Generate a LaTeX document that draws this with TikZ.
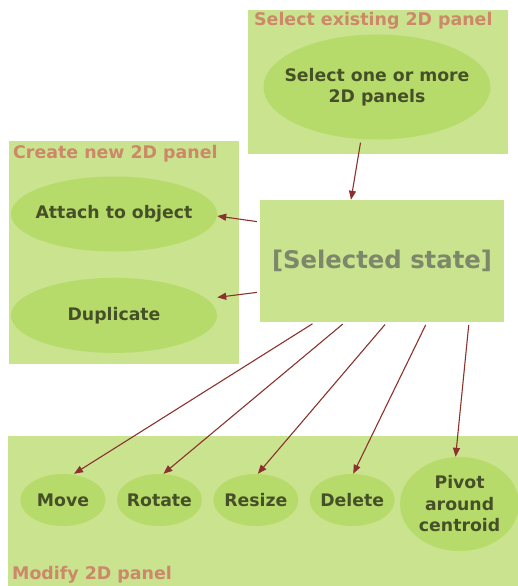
\documentclass[tikz,border=0pt]{standalone}
\usepackage{fontspec}
\setmainfont{DejaVu Sans}
\usetikzlibrary{shapes.geometric,arrows.meta,positioning}

\definecolor{panelverde}{HTML}{C9E38F}
\definecolor{elipseverde}{HTML}{B7DB6A}
\definecolor{textooliva}{HTML}{465028}
\definecolor{titulosalmon}{HTML}{CD8769}
\definecolor{estadogris}{HTML}{7D8769}
\definecolor{flechagranate}{HTML}{8C322D}

\tikzset{
    panel/.style={
        rectangle,                % fondo de cada grupo
        fill=panelverde,          % verde claro, sin borde
        inner sep=0pt,
        anchor=north west         % se coloca por su esquina superior izquierda
    },
    paneltitle/.style={
        text=titulosalmon,        % título del grupo en tono salmón
        font=\bfseries\fontsize{17.4}{21}\selectfont,
        inner sep=0pt,
        anchor=base west
    },
    accion/.style={
        ellipse,                  % cada acción es una elipse
        fill=elipseverde,         % verde algo más intenso que el panel
        text=textooliva,
        font=\bfseries\fontsize{17.3}{21.5}\selectfont,
        align=center,
        inner sep=-20pt           % el tamaño lo fijan minimum width/height
    },
    estado/.style={
        rectangle,
        fill=panelverde,
        text=estadogris,          % texto gris para el estado
        font=\bfseries\fontsize{24.3}{28}\selectfont,
        minimum width=244pt,
        minimum height=122pt
    },
    flecha/.style={
        -{Triangle[length=9pt,width=7pt]},
        draw=flechagranate,
        line width=1.1pt,
        shorten <=3pt             % pequeño hueco en el origen
    }
}

\begin{document}
\begin{tikzpicture}[x=1pt,y=-1pt]
    \useasboundingbox (0,0) rectangle (518,586);

    \node[panel, minimum width=260pt, minimum height=144pt] (existente) at (248,10) {};
    \node[paneltitle] (existentetit) at (254,26) {Select existing 2D panel};
    \node[accion, minimum width=227pt, minimum height=105pt] (seleccionar) at (377,87) {Select one or more\\2D panels};

    \node[panel, minimum width=230pt, minimum height=223pt] (nuevo) at (9,141) {};
    \node[paneltitle] (nuevotit) at (13,158) {Create new 2D panel};
    \node[accion, minimum width=206pt, minimum height=75pt] (adjuntar) at (114,214) {Attach to object};
    \node[accion, minimum width=206pt, minimum height=75pt, below=26pt of adjuntar] (duplicar) {Duplicate};

    \node[estado] (seleccionado) at (382,261) {[Selected state]};

    \node[panel, minimum width=510pt, minimum height=150pt] (modificar) at (8,436) {};
    \node[paneltitle] (modificartit) at (12,579) {Modify 2D panel};
    \node[accion, minimum width=85pt, minimum height=52pt] (mover) at (63,500) {Move};
    \node[accion, minimum width=85pt, minimum height=52pt, right=11pt of mover] (rotar) {Rotate};
    \node[accion, minimum width=85pt, minimum height=52pt, right=11pt of rotar] (redimensionar) {Resize};
    \node[accion, minimum width=85pt, minimum height=52pt, right=11pt of redimensionar] (borrar) {Delete};
    \node[accion, minimum width=119pt, minimum height=94pt, right=5pt of borrar, yshift=-4pt] (pivotar) {Pivot\\around\\centroid};

    \draw[flecha] ([xshift=-16pt]seleccionar.south) -- ([xshift=-31pt]seleccionado.north);
    \draw[flecha] ([yshift=39pt]seleccionado.west) -- ([yshift=-2pt]adjuntar.east);
    \draw[flecha] ([yshift=-31pt]seleccionado.west) -- ([yshift=18pt]duplicar.east);
    \draw[flecha] ([xshift=-67pt]seleccionado.south) -- ([xshift=11pt]mover.north);
    \draw[flecha] ([xshift=-37pt]seleccionado.south) -- ([xshift=4pt]rotar.north);
    \draw[flecha] ([xshift=5pt]seleccionado.south) -- ([xshift=2pt]redimensionar.north);
    \draw[flecha] ([xshift=45pt]seleccionado.south) -- ([xshift=1pt]borrar.north);
    \draw[flecha] ([xshift=87pt]seleccionado.south) -- ([xshift=-4pt]pivotar.north);
\end{tikzpicture}
\end{document}
